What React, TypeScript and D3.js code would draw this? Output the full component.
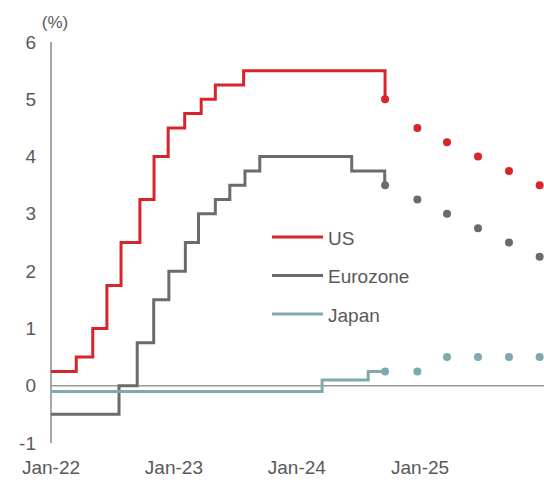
import React from "react";
import * as d3 from "d3";

const usDates = ["2022-01-01","2022-03-17","2022-05-05","2022-06-16","2022-07-28","2022-09-22","2022-11-03","2022-12-15","2023-02-02","2023-03-23","2023-05-04","2023-07-27","2024-09-19"];
const usValues = [0.25,0.5,1.0,1.75,2.5,3.25,4.0,4.5,4.75,5.0,5.25,5.5,5.0];

const ezDates = ["2022-01-01","2022-07-22","2022-09-14","2022-11-02","2022-12-17","2023-02-04","2023-03-15","2023-05-04","2023-06-16","2023-07-31","2023-09-13","2024-06-12","2024-09-18"];
const ezValues = [-0.5,0,0.75,1.5,2.0,2.5,3.0,3.25,3.5,3.75,4.0,3.75,3.5];

const jpDates = ["2022-01-01","2024-03-16","2024-07-31","2024-09-19"];
const jpValues = [-0.1,0.1,0.25,0.25];

const fcDates = ["2024-09-19","2024-12-24","2025-03-22","2025-06-22","2025-09-22","2025-12-22"];
const usForecast = [5.0,4.5,4.25,4.0,3.75,3.5];
const ezForecast = [3.5,3.25,3.0,2.75,2.5,2.25];
const jpForecast = [0.25,0.25,0.5,0.5,0.5,0.5];

const yTicks = [-1,0,1,2,3,4,5,6];
const xTickLabels = ["Jan-22","Jan-23","Jan-24","Jan-25"];
const xTickDates = ["2022-01-01","2023-01-01","2024-01-01","2025-01-01"];

const seriesNames = ["US","Eurozone","Japan"];
const colors = ["#d6262b","#6b6b6b","#7eaaae"];

const parse = d3.timeParse("%Y-%m-%d");

export default function App() {
  const W = 544, H = 480;
  const x = d3.scaleTime().domain([parse("2022-01-01")!, parse("2026-01-01")!]).range([51, 543]);
  const y = d3.scaleLinear().domain([-1, 6]).range([443, 42]);
  const line = d3.line<[Date, number]>().x(d => x(d[0])).y(d => y(d[1])).curve(d3.curveStepAfter);

  const series = [
    { dates: usDates, values: usValues, fc: usForecast },
    { dates: ezDates, values: ezValues, fc: ezForecast },
    { dates: jpDates, values: jpValues, fc: jpForecast },
  ];
  const font = "'Liberation Sans', Arial, sans-serif";
  const textColor = "#595959";

  return (
    <svg width={W} height={H} style={{ position: "absolute", left: 0, top: 0, background: "#fff" }} fontFamily={font}>
      {/* zero line */}
      <line x1={x.range()[0]} x2={W} y1={y(0)} y2={y(0)} stroke="#9a9a9a" strokeWidth={1.5} />
      {/* y axis line */}
      <line x1={x.range()[0]} x2={x.range()[0]} y1={y(6)} y2={y(-1)} stroke="#8a8a8a" strokeWidth={1.5} />
      {yTicks.map(t => (
        <text key={t} x={36} y={y(t)} textAnchor="end" dominantBaseline="central" fontSize={19} fill={textColor}>{t}</text>
      ))}
      <text x={55} y={22} textAnchor="middle" dominantBaseline="central" fontSize={17} fill={textColor}>(%)</text>
      {xTickLabels.map((l, i) => (
        <text key={l} x={x(parse(xTickDates[i])!)} y={467} textAnchor="middle" dominantBaseline="central" fontSize={19} fill={textColor}>{l}</text>
      ))}
      {series.map((s, i) => {
        const pts: [Date, number][] = s.dates.map((d, j) => [parse(d)!, s.values[j]]);
        return <path key={i} d={line(pts) || ""} fill="none" stroke={colors[i]} strokeWidth={3} />;
      })}
      {series.map((s, i) => (
        <g key={"fc" + i}>
          {fcDates.map((d, j) => (
            <circle key={j} cx={x(parse(d)!)} cy={y(s.fc[j])} r={4} fill={colors[i]} />
          ))}
        </g>
      ))}
      {seriesNames.map((n, i) => (
        <g key={n}>
          <line x1={272} x2={323} y1={237 + i * 38.5} y2={237 + i * 38.5} stroke={colors[i]} strokeWidth={3} />
          <text x={328} y={238 + i * 38.5} dominantBaseline="central" fontSize={19} fill={textColor}>{n}</text>
        </g>
      ))}
    </svg>
  );
}
